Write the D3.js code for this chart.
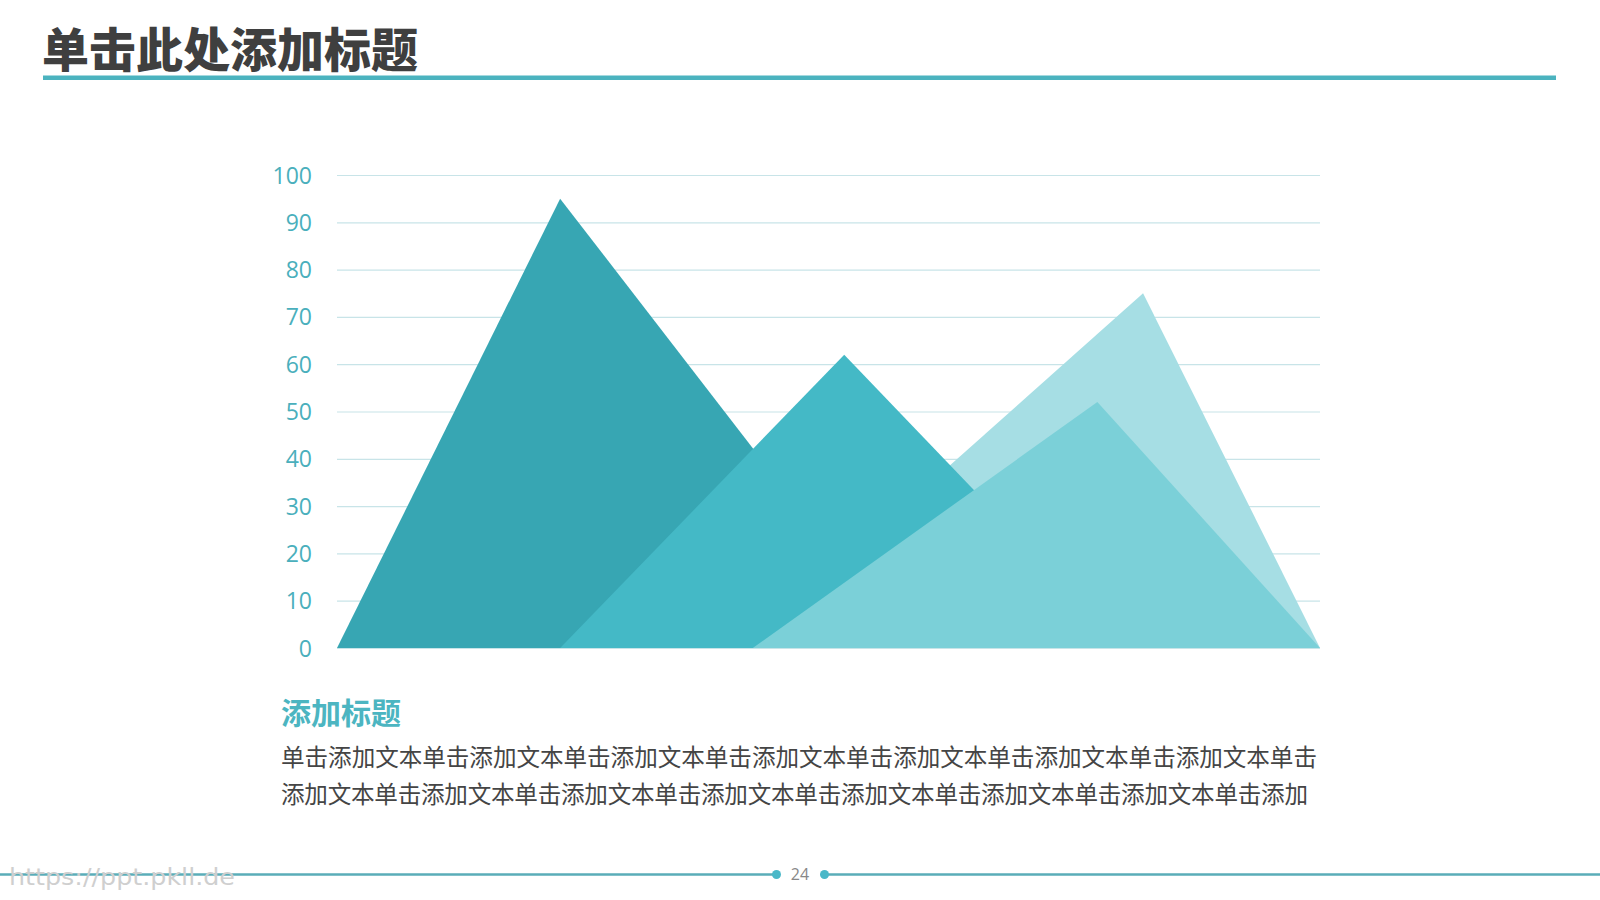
<!DOCTYPE html>
<html>
<head>
<meta charset="utf-8">
<script src="https://cdn.jsdelivr.net/npm/d3@7/dist/d3.min.js"></script>
<style>
  html, body { margin: 0; padding: 0; background: #ffffff; }
  svg { display: block; }
</style>
</head>
<body>
<svg id="chart" width="1600" height="900"></svg>
<script>
// ---- data ----
const titleText = "单击此处添加标题";
const subTitle = "添加标题";
const bodyLines = [
  "单击添加文本单击添加文本单击添加文本单击添加文本单击添加文本单击添加文本单击添加文本单击",
  "添加文本单击添加文本单击添加文本单击添加文本单击添加文本单击添加文本单击添加文本单击添加"
];
const bodyLineWidths = [1036, 1027];
const yTicks = [0, 10, 20, 30, 40, 50, 60, 70, 80, 90, 100];
const seriesNames = ["山峰1", "山峰2", "山峰3", "山峰4"];
const startX = [0, 22.7, 41.5, 42.3];      // position along the horizontal axis (0-100)
const peakX = [22.7, 51.6, 82.0, 77.35];
const endX = [58.0, 80.2, 100, 100];
const peakValues = [95, 62, 75, 52];
const seriesColors = ["#37a6b3", "#44b9c6", "#a6dee4", "#7bd0d8"];
const drawOrder = [2, 0, 1, 3];
const pageNumber = "24";
const watermark = "https://ppt.pkll.de";

// ---- layout ----
const svg = d3.select("#chart");
const plot = { left: 337, right: 1320, top: 175, bottom: 648 };

const x = d3.scaleLinear().domain([0, 100]).range([plot.left, plot.right]);
const y = d3.scaleLinear().domain([0, 100]).range([plot.bottom, plot.top]);

// Title
svg.append("text")
  .attr("x", 42).attr("y", 67)
  .attr("font-family", "'Noto Sans CJK SC', sans-serif")
  .attr("font-weight", 900)
  .attr("font-size", 47)
  .attr("fill", "#3f3f3f")
  .text(titleText);

svg.append("rect")
  .attr("x", 43).attr("y", 75.5)
  .attr("width", 1513).attr("height", 4.5)
  .attr("fill", "#4bb3bf");

// Grid lines + axis labels
const yAxis = d3.axisLeft(y)
  .tickValues(yTicks)
  .tickSize(-(plot.right - plot.left))
  .tickPadding(25)
  .tickFormat(d3.format("d"));

const gAxis = svg.append("g")
  .attr("transform", `translate(${plot.left},0)`)
  .call(yAxis);
gAxis.select(".domain").remove();
gAxis.selectAll(".tick line")
  .attr("stroke", "#c8e4e8")
  .attr("stroke-width", 1.2);
gAxis.selectAll(".tick text")
  .attr("fill", "#4aafbc")
  .attr("font-family", "'Open Sans', sans-serif")
  .attr("font-size", 23)
  .attr("dy", "0.35em");

// Mountains
const line = d3.line().x(d => x(d[0])).y(d => y(d[1]));
const mountains = seriesNames.map((name, i) => ({
  name,
  pts: [[startX[i], 0], [peakX[i], peakValues[i]], [endX[i], 0]],
  color: seriesColors[i]
}));

svg.append("g").selectAll("path")
  .data(drawOrder.map(i => mountains[i]))
  .join("path")
  .attr("d", d => line(d.pts) + "Z")
  .attr("fill", d => d.color);

// Subtitle and body text
svg.append("text")
  .attr("x", 281).attr("y", 724)
  .attr("font-family", "'Noto Sans CJK SC', sans-serif")
  .attr("font-weight", 700)
  .attr("font-size", 30)
  .attr("fill", "#4cb5c1")
  .text(subTitle);

svg.append("g").selectAll("text")
  .data(bodyLines)
  .join("text")
  .attr("x", 281)
  .attr("y", (d, i) => 765.5 + i * 37)
  .attr("font-family", "'Noto Sans CJK SC', sans-serif")
  .attr("font-weight", 400)
  .attr("font-size", 23.6)
  .attr("textLength", (d, i) => bodyLineWidths[i])
  .attr("lengthAdjust", "spacing")
  .attr("fill", "#454545")
  .text(d => d);

// Footer
const footY = 874.5;
svg.append("line")
  .attr("x1", 0).attr("x2", 776).attr("y1", footY).attr("y2", footY)
  .attr("stroke", "#5aadb8").attr("stroke-width", 2.5);
svg.append("line")
  .attr("x1", 825).attr("x2", 1600).attr("y1", footY).attr("y2", footY)
  .attr("stroke", "#5aadb8").attr("stroke-width", 2.5);
svg.selectAll("circle.dot")
  .data([776.5, 824.5])
  .join("circle")
  .attr("class", "dot")
  .attr("cx", d => d).attr("cy", footY).attr("r", 4.5)
  .attr("fill", "#4ab8c8");
svg.append("text")
  .attr("x", 800).attr("y", footY).attr("dy", "0.36em")
  .attr("text-anchor", "middle")
  .attr("font-family", "'Open Sans', sans-serif")
  .attr("font-size", 16)
  .attr("fill", "#888888")
  .text(pageNumber);
svg.append("text")
  .attr("x", 9).attr("y", 885)
  .attr("font-family", "'DejaVu Sans Condensed', 'DejaVu Sans', sans-serif")
  .attr("font-weight", 400)
  .attr("font-size", 23)
  .attr("textLength", 226)
  .attr("lengthAdjust", "spacingAndGlyphs")
  .attr("fill", "#cfcfcf")
  .text(watermark);
</script>
</body>
</html>
